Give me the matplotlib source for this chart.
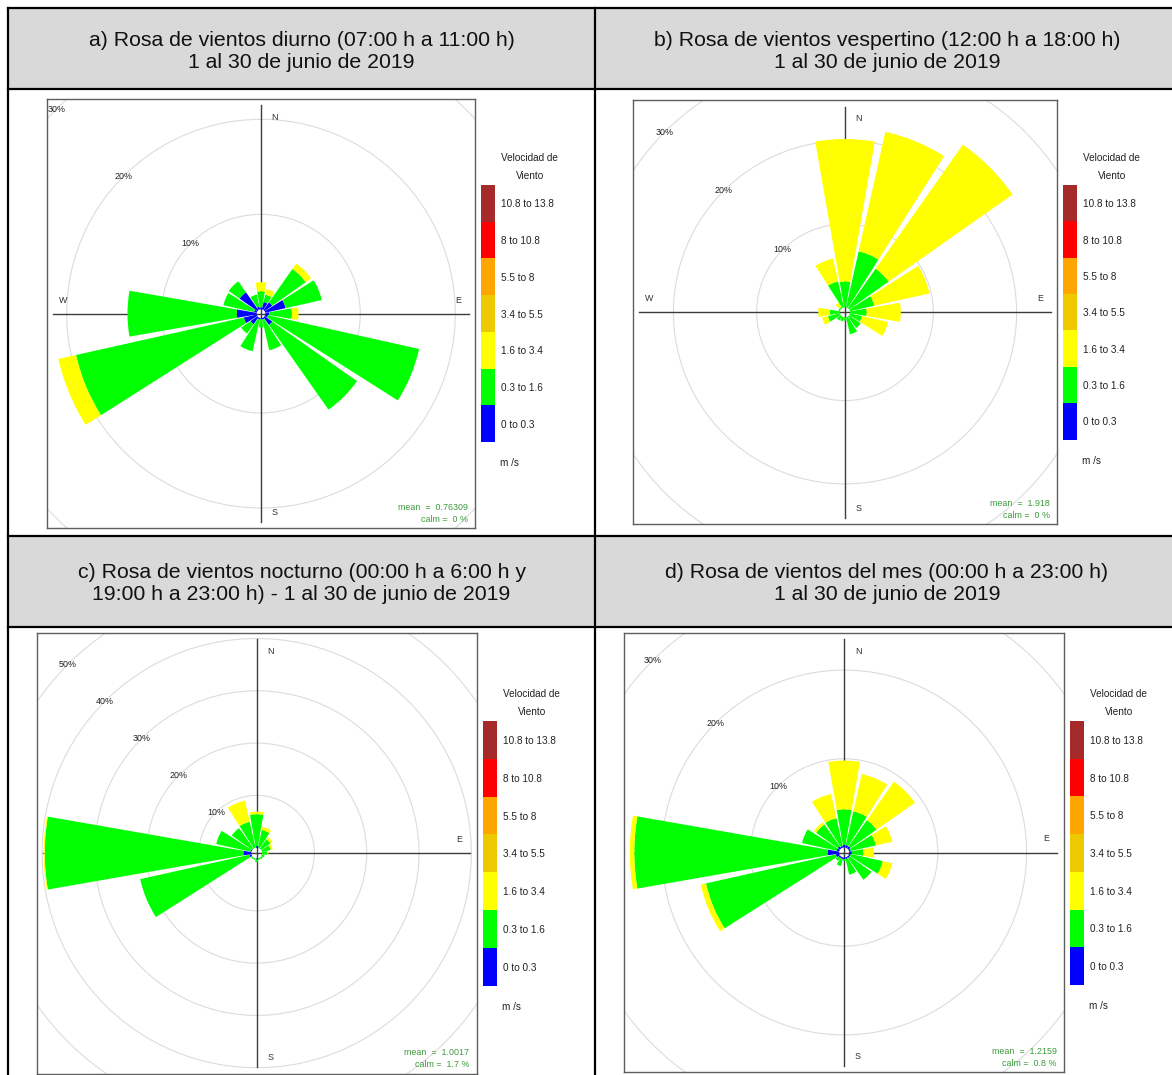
import matplotlib.pyplot as plt
import numpy as np
from matplotlib.patches import Wedge, Circle, Rectangle
from matplotlib.colors import ListedColormap, BoundaryNorm
from matplotlib.cm import ScalarMappable

plt.rcParams['font.family'] = ['Liberation Sans', 'DejaVu Sans']

W, H = 1172, 1075

# 16 sectors, clockwise from N
directions = np.arange(16) * 22.5
bin_labels = ["0 to 0.3", "0.3 to 1.6", "1.6 to 3.4", "3.4 to 5.5",
              "5.5 to 8", "8 to 10.8", "10.8 to 13.8"]
bin_colors = ["#0000FF", "#00FF00", "#FFFF00", "#EEC900",
              "#FFA500", "#FF0000", "#A52A2A"]

# frequency (%) per direction  N NNE NE ENE E ESE SE SSE S SSW SW WSW W WNW NW NNW
diurno_0_03 = [0.2, 0.8, 1.0, 2.2, 0.4, 0.3, 1.0, 0.2, 0.1, 0.2, 0.9, 1.4, 2.1, 0.3, 2.3, 0.3]
diurno_03_16 = [1.7, 0.8, 4.3, 3.9, 2.4, 16.3, 10.9, 3.3, 0.9, 3.4, 1.2, 18.1, 11.5, 3.3, 1.4, 1.3]
diurno_16_34 = [0.95, 0.6, 0.7, 0, 0.7, 0, 0, 0, 0, 0, 0, 1.9, 0, 0, 0, 0]

vesp_0_03 = [0] * 16
vesp_03_16 = [3.1, 6.9, 5.8, 3.0, 2.0, 1.5, 1.7, 2.1, 0.4, 0.5, 0.6, 1.5, 1.2, 0.2, 0.2, 3.2]
vesp_16_34 = [17.1, 14.7, 18.2, 6.8, 4.1, 3.2, 0, 0, 0, 0, 0, 0.7, 1.4, 0, 0.6, 2.8]

noct_0_03 = [0.3, 0.1, 0, 0, 0, 0, 0, 0, 0.2, 0, 0, 0.4, 1.5, 0.2, 0.1, 0]
noct_03_16 = [6.1, 3.4, 2.2, 1.7, 1.0, 0.5, 0.4, 0.3, 0.5, 0.3, 0.3, 21.4, 38.0, 6.7, 4.7, 5.1]
noct_16_34 = [0.5, 0.6, 0.5, 0.4, 0.2, 0, 0, 0, 0, 0, 0, 0, 0.2, 0, 0, 4.15]

mes_0_03 = [0.3, 0.3, 0.3, 0.2, 0.3, 0.2, 0.2, 0.2, 0.2, 0.2, 0.2, 0.4, 1.3, 0.3, 0.3, 0.2]
mes_03_16 = [4.0, 3.9, 3.6, 2.9, 1.3, 3.7, 3.0, 1.8, 0.2, 0.8, 0.4, 15.0, 21.8, 4.0, 3.0, 3.2]
mes_16_34 = [5.5, 4.3, 5.3, 1.9, 1.2, 1.1, 0, 0, 0, 0, 0, 0.6, 0.5, 0, 0.3, 2.8]

titles = [
    "a) Rosa de vientos diurno (07:00 h a 11:00 h)\n1 al 30 de junio de 2019",
    "b) Rosa de vientos vespertino (12:00 h a 18:00 h)\n1 al 30 de junio de 2019",
    "c) Rosa de vientos nocturno (00:00 h a 6:00 h y\n19:00 h a 23:00 h) - 1 al 30 de junio de 2019",
    "d) Rosa de vientos del mes (00:00 h a 23:00 h)\n1 al 30 de junio de 2019",
]
means = ["0.76309", "1.918", "1.0017", "1.2159"]
calms = ["0", "0", "1.7", "0.8"]
ring_steps = [[10, 20, 30], [10, 20, 30], [10, 20, 30, 40, 50], [10, 20, 30]]

stacks = [
    [diurno_0_03, diurno_03_16, diurno_16_34],
    [vesp_0_03, vesp_03_16, vesp_16_34],
    [noct_0_03, noct_03_16, noct_16_34],
    [mes_0_03, mes_03_16, mes_16_34],
]

# pixel layout: plot frame, px per %, hole radius px, colour key box
frames = [(46.7, 99, 475.3, 528.3), (632.7, 100.3, 1057.3, 524.3),
          (36.7, 632.7, 476.7, 1073.5), (624.3, 632.7, 1064, 1072.3)]
scales = [9.5, 8.33, 5.23, 8.87]
holes = [4.3, 5.0, 5.4, 5.0]
keys = [(481, 185, 495, 442), (1063, 185, 1077, 439.5),
        (483, 721, 497, 985.7), (1070, 721, 1084, 985)]
title_pos = [(301.5, 51.5), (887, 51.5), (301.5, 583.5), (887, 583.5)]

HALF_W = 9.9  # half angular width of a sector bar (deg)


def px_axes(fig, x0, y0, x1, y1, **kw):
    return fig.add_axes([x0 / W, 1 - y1 / H, (x1 - x0) / W, (y1 - y0) / H], **kw)


def draw_rose(ax, layers, rings, scale, hole_px, frame, mean, calm):
    off = hole_px / scale
    hx = (frame[2] - frame[0]) / 2 / scale
    hy = (frame[3] - frame[1]) / 2 / scale
    ax.set_xlim(-hx, hx)
    ax.set_ylim(-hy, hy)
    ax.set_xticks([])
    ax.set_yticks([])
    for sp in ax.spines.values():
        sp.set_color("#5e5e5e")
        sp.set_linewidth(1.0)

    for r in rings:
        rr = off + r
        ax.add_patch(Circle((0, 0), rr, fill=False, ec="#dcdcdc", lw=0.8, zorder=1))
        ax.text(-rr * np.cos(np.pi / 4), rr * np.sin(np.pi / 4), f"{r}%",
                ha="center", va="center", fontsize=6.4, color="#222222", zorder=5)

    ax.plot([0, 0], [-0.97 * hy, 0.97 * hy], color="#3c3c3c", lw=1.0, zorder=2)
    ax.plot([-0.97 * hx, 0.97 * hx], [0, 0], color="#3c3c3c", lw=1.0, zorder=2)

    for k, d in enumerate(directions):
        r0 = off
        for vals, col in zip(layers, bin_colors):
            v = vals[k]
            if v <= 0:
                continue
            ax.add_patch(Wedge((0, 0), r0 + v, 90 - d - HALF_W, 90 - d + HALF_W,
                               width=v, fc=col, ec="none", zorder=3))
            r0 += v

    # compass letters sit under the bars
    lab = dict(fontsize=6.4, color="#333333", ha="center", va="center",
               transform=ax.transAxes, zorder=2)
    ax.text(0.5315, 0.958, "N", **lab)
    ax.text(0.5315, 0.037, "S", **lab)
    ax.text(0.039, 0.5315, "W", **lab)
    ax.text(0.960, 0.5315, "E", **lab)

    ax.text(0.983, 0.048, f"mean  =  {mean}", ha="right", va="center",
            fontsize=6.4, color="#3a9a3a", transform=ax.transAxes)
    ax.text(0.983, 0.020, f"calm =  {calm} %", ha="right", va="center",
            fontsize=6.4, color="#3a9a3a", transform=ax.transAxes)


def main():
    fig = plt.figure(figsize=(W / 100, H / 100), dpi=100)

    # table background and grid lines
    bg = fig.add_axes([0, 0, 1, 1])
    bg.set_xlim(0, W)
    bg.set_ylim(H, 0)
    bg.axis("off")
    for y0, y1 in [(8, 89), (536, 627)]:
        bg.add_patch(Rectangle((8, y0), W - 8, y1 - y0, fc="#d9d9d9", ec="none"))
    for y in [8, 89, 536, 627]:
        bg.plot([8, W], [y, y], color="black", lw=1.6)
    for x in [8, 595]:
        bg.plot([x, x], [8, H], color="black", lw=1.6)

    for (tx, ty), t in zip(title_pos, titles):
        bg.text(tx, ty, t, ha="center", va="center", fontsize=15.3,
                linespacing=1.25, color="#111111")

    cmap = ListedColormap(bin_colors)
    norm = BoundaryNorm(np.arange(8), 7)

    for i in range(4):
        ax = px_axes(fig, *frames[i])
        draw_rose(ax, stacks[i], ring_steps[i], scales[i], holes[i], frames[i],
                  means[i], calms[i])

        kx0, ky0, kx1, ky1 = keys[i]
        cax = px_axes(fig, kx0, ky0, kx1, ky1)
        cb = fig.colorbar(ScalarMappable(norm=norm, cmap=cmap), cax=cax,
                          ticks=np.arange(7) + 0.5)
        cb.set_ticklabels(bin_labels)
        cb.outline.set_visible(False)
        cax.minorticks_off()
        cax.tick_params(which="both", length=0, pad=4, labelsize=7.2,
                        colors="#222222")

        bg.text(kx0 + 48, ky0 - 27, "Velocidad de", ha="center", va="center",
                fontsize=7.2, color="#222222")
        bg.text(kx0 + 49, ky0 - 9, "Viento", ha="center", va="center",
                fontsize=7.2, color="#222222")
        bg.text(kx0 + 19, ky1 + 21, "m /s", ha="left", va="center",
                fontsize=7.2, color="#222222")

    fig.savefig("out.png", dpi=100)


if __name__ == "__main__":
    main()
